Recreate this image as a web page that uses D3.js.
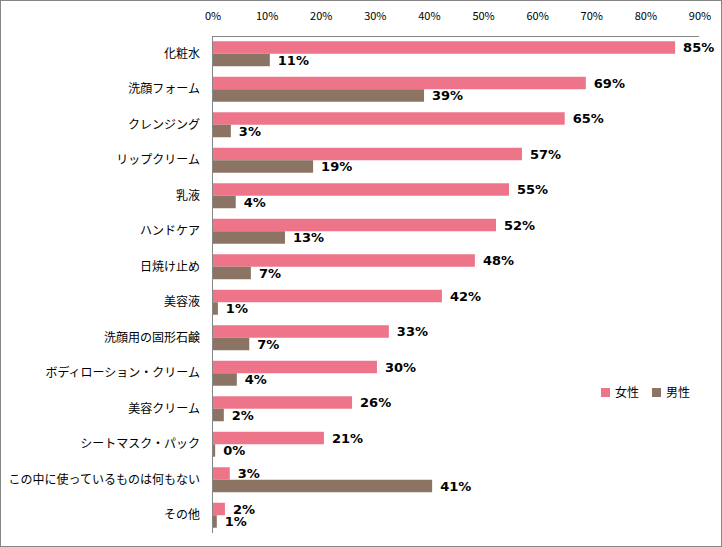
<!DOCTYPE html>
<html>
<head>
<meta charset="utf-8">
<script src="https://cdn.jsdelivr.net/npm/d3@7"></script>
<style>
  body { margin: 0; background: #fff; }
</style>
</head>
<body>
<script>
const categories = [
  "化粧水", "洗顔フォーム", "クレンジング", "リップクリーム", "乳液", "ハンドケア",
  "日焼け止め", "美容液", "洗顔用の固形石鹸", "ボディローション・クリーム",
  "美容クリーム", "シートマスク・パック", "この中に使っているものは何もない", "その他"
];
const female = [85.4, 68.9, 65, 57.1, 54.7, 52.3, 48.4, 42.3, 32.5, 30.3, 25.7, 20.5, 3.1, 2.2];
const male = [10.5, 39, 3.3, 18.5, 4.2, 13.3, 7, 0.9, 6.7, 4.4, 2, 0.4, 40.5, 0.7];
const ticks = [0, 10, 20, 30, 40, 50, 60, 70, 80, 90];
const seriesNames = ["女性", "男性"];
const colors = ["#ee7589", "#8b7463"];

const width = 722, height = 547;
const m = { left: 212, right: 699, top: 36, bottom: 533 };

const svg = d3.select("body").append("svg")
  .attr("width", width)
  .attr("height", height);

svg.append("rect")
  .attr("x", 0.5).attr("y", 0.5)
  .attr("width", width - 1).attr("height", height - 1)
  .attr("fill", "#fff").attr("stroke", "#868686");

const x = d3.scaleLinear().domain([0, 90]).range([m.left, m.right]);
const y = d3.scaleBand().domain(categories).range([m.top, m.bottom]).paddingInner(0.296).paddingOuter(0.148);
const ySub = d3.scaleBand().domain([0, 1]).range([0, y.bandwidth()]);

// axis lines
svg.append("line")
  .attr("x1", m.left).attr("x2", m.right)
  .attr("y1", m.top + 0.5).attr("y2", m.top + 0.5)
  .attr("stroke", "#868686");
svg.append("line")
  .attr("x1", m.left + 0.5).attr("x2", m.left + 0.5)
  .attr("y1", m.top).attr("y2", m.bottom)
  .attr("stroke", "#868686");

// tick labels
svg.append("g")
  .selectAll("text")
  .data(ticks)
  .join("text")
  .attr("x", d => x(d) + 1)
  .attr("y", 20)
  .attr("text-anchor", "middle")
  .style("font", "11px 'Noto Sans CJK JP', sans-serif")
  .text(d => d + "%");

// category labels
svg.append("g")
  .selectAll("text")
  .data(categories)
  .join("text")
  .attr("x", 200)
  .attr("y", d => y(d) + y.bandwidth() / 2)
  .attr("dy", "0.35em")
  .attr("text-anchor", "end")
  .style("font", "12px 'Noto Sans CJK JP', sans-serif")
  .text(d => d);

const series = [female, male];

series.forEach((vals, si) => {
  const g = svg.append("g");
  g.selectAll("rect")
    .data(vals)
    .join("rect")
    .attr("x", x(0) + 1)
    .attr("y", (d, i) => y(categories[i]) + ySub(si))
    .attr("width", d => x(d) - x(0))
    .attr("height", ySub.bandwidth())
    .attr("fill", colors[si]);

  g.selectAll("text")
    .data(vals)
    .join("text")
    .attr("x", d => x(d) + 9)
    .attr("y", (d, i) => y(categories[i]) + ySub(si) + ySub.bandwidth() / 2)
    .attr("dy", "0.38em")
    .style("font", "bold 13px 'DejaVu Sans', sans-serif")
    .text(d => Math.round(d) + "%");
});

// legend
const legend = svg.append("g").attr("transform", "translate(601,388)");
seriesNames.forEach((name, i) => {
  const lg = legend.append("g").attr("transform", `translate(${i * 51},0)`);
  lg.append("rect").attr("width", 9).attr("height", 9).attr("fill", colors[i]);
  lg.append("text")
    .attr("x", 14).attr("y", 5)
    .attr("dy", "0.35em")
    .style("font", "12px 'Noto Sans CJK JP', sans-serif")
    .text(name);
});
</script>
</body>
</html>
